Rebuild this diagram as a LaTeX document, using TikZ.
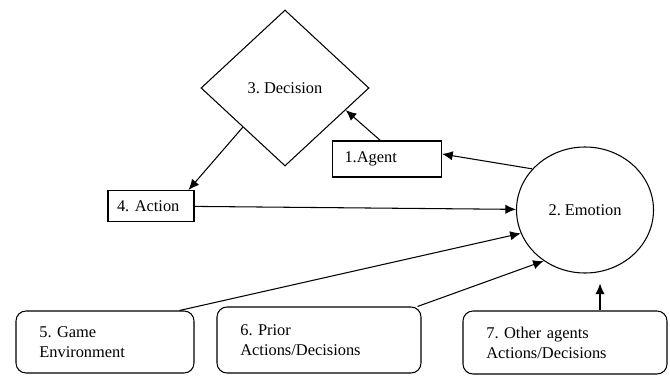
\documentclass[tikz,border=0pt]{standalone}
\usepackage{fontspec}
\setmainfont{Liberation Serif}
\usetikzlibrary{shapes.geometric,arrows.meta}
\frenchspacing

\begin{document}
\begin{tikzpicture}[>={Latex[length=3.2mm,width=2.8mm]}, line width=0.9pt,
    every node/.style={font=\fontsize{14}{17}\selectfont},
    caja/.style={draw, rectangle, inner ysep=0pt, align=left},
    redonda/.style={draw, rounded corners=0.3cm, inner xsep=0.7cm, inner ysep=0pt, align=left}]
    \useasboundingbox (0,0) rectangle (20.1,11.28);

    % Decision y Agente
    \node[draw, diamond, minimum width=5.04cm, minimum height=4.68cm, inner sep=0pt] (dec) at (8.55,8.64) {3. Decision};
    \node[caja, inner xsep=0.36cm, text width=2.55cm, minimum height=1.08cm] (agent) at (11.61,6.51) {1.Agent};
    \node[caja, inner xsep=0.27cm, text width=2.04cm, minimum height=0.93cm] (act) at (4.53,5.10) {4. Action};

    % Emocion
    \node[draw, ellipse, minimum width=4.11cm, minimum height=3.78cm, inner sep=0pt] (emo) at (17.55,4.98) {2. Emotion};

    % Entradas
    \node[redonda, text width=3.94cm, minimum height=1.86cm] (env) at (3.15,1.02) {5. Game\\Environment};
    \node[redonda, text width=4.72cm, minimum height=1.98cm] (prior) at (9.57,1.08) {6. Prior\\Actions/Decisions};
    \node[redonda, text width=4.72cm, minimum height=1.89cm] (other) at (16.95,1.005) {7. Other agents\\Actions/Decisions};
    \coordinate (e7) at ([xshift=0.45cm,yshift=-0.3cm]emo.south);

    % Flechas
    \draw[->] (dec.south west) -- ([xshift=-0.18cm]act.north east);
    \draw[->] ([xshift=-0.2cm]agent.north) -- (dec.-20);
    \draw[->] (emo.142) -- ([yshift=0.15cm]agent.east);
    \draw[->] (act) -- (emo);
    \draw[->] ([xshift=-0.45cm]env.north east) -- (emo.200);
    \draw[->] ([xshift=-0.12cm]prior.north east) -- (emo.231);
    \draw[->] (other.north -| e7) -- (e7);
\end{tikzpicture}
\end{document}
